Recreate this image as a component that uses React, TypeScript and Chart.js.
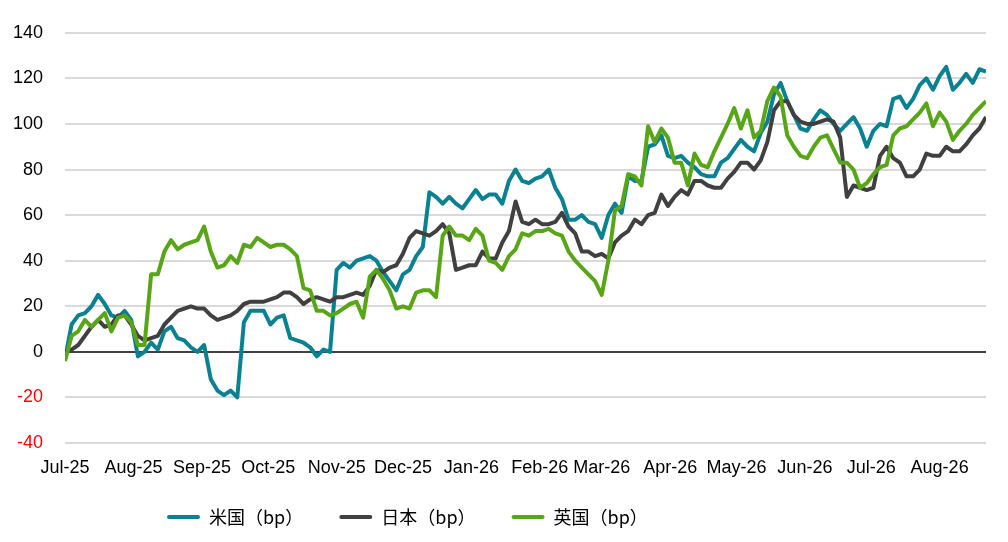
import React, { useEffect, useRef } from 'react';
import { Chart, registerables } from 'chart.js';

Chart.register(...registerables);

// 3営業日ごとのサンプル（2025/7/1 からの経過日数）
const DAY_STEP = 3;
const X_MAX = 417;

const monthOffsets = [0, 31, 62, 92, 123, 153, 184, 215, 243, 274, 304, 335, 365, 396];
const monthLabels = [
  'Jul-25', 'Aug-25', 'Sep-25', 'Oct-25', 'Nov-25', 'Dec-25', 'Jan-26',
  'Feb-26', 'Mar-26', 'Apr-26', 'May-26', 'Jun-26', 'Jul-26', 'Aug-26',
];

const seriesNames = ['米国（bp）', '日本（bp）', '英国（bp）'];
const seriesColors = ['#0A8191', '#404040', '#58A618'];

const usSpread = [
  -3, 12, 16, 17, 20, 25, 21, 16, 15, 18, 14, -2, 0, 4, 1, 9, 11, 6, 5, 2,
  0, 3, -12, -17, -19, -17, -20, 13, 18, 18, 18, 12, 15, 16, 6, 5, 4, 2, -2, 1,
  0, 36, 39, 37, 40, 41, 42, 40, 35, 31, 27, 34, 36, 42, 46, 70, 68, 65, 68, 65,
  63, 67, 71, 67, 69, 69, 65, 75, 80, 75, 74, 76, 77, 80, 72, 67, 58, 58, 60, 57,
  56, 50, 60, 65, 61, 77, 75, 75, 90, 91, 95, 86, 85, 86, 83, 81, 78, 77, 77, 83,
  85, 89, 93, 90, 88, 96, 101, 113, 118, 110, 104, 98, 97, 102, 106, 104, 100, 97, 100, 103,
  98, 90, 97, 100, 99, 111, 112, 107, 111, 117, 120, 115, 121, 125, 115, 118, 122, 118, 124, 123,
];

const jpSpread = [
  0, 1, 3, 7, 11, 14, 11, 12, 16, 16, 12, 7, 5, 6, 7, 12, 15, 18, 19, 20,
  19, 19, 16, 14, 15, 16, 18, 21, 22, 22, 22, 23, 24, 26, 26, 24, 21, 23, 24, 23,
  22, 24, 24, 25, 26, 25, 29, 36, 35, 37, 38, 43, 50, 53, 52, 51, 53, 56, 52, 36,
  37, 38, 38, 44, 41, 41, 48, 53, 66, 57, 56, 58, 56, 56, 57, 61, 55, 52, 44, 44,
  42, 43, 41, 48, 51, 53, 58, 56, 60, 61, 69, 64, 68, 71, 69, 75, 75, 73, 72, 72,
  76, 79, 83, 83, 80, 84, 92, 106, 110, 110, 104, 101, 100, 100, 101, 102, 101, 94, 68, 73,
  72, 71, 72, 86, 90, 85, 83, 77, 77, 80, 87, 86, 86, 90, 88, 88, 91, 95, 98, 103,
];

const ukSpread = [
  -4, 7, 9, 14, 11, 14, 17, 9, 15, 16, 13, 3, 3, 34, 34, 44, 49, 45, 47, 48,
  49, 55, 44, 37, 38, 42, 39, 47, 46, 50, 48, 46, 47, 47, 45, 42, 28, 27, 18, 18,
  16, 17, 19, 21, 22, 15, 33, 36, 32, 27, 19, 20, 19, 26, 27, 27, 24, 51, 55, 51,
  51, 49, 54, 51, 40, 39, 36, 42, 45, 52, 51, 53, 53, 54, 52, 51, 44, 40, 37, 34,
  31, 25, 40, 62, 64, 78, 77, 73, 99, 92, 98, 94, 83, 83, 73, 87, 82, 81, 88, 94,
  100, 107, 98, 106, 94, 97, 110, 116, 112, 95, 90, 86, 85, 90, 94, 95, 89, 83, 83, 80,
  72, 74, 78, 81, 82, 95, 98, 99, 102, 105, 109, 99, 105, 101, 93, 97, 100, 104, 107, 110,
];

const LEGEND_START = 167;
const LEGEND_PADDING = 36;
const LEGEND_TOP = 472;

const toPoints = (values: number[]) => values.map((v, i) => ({ x: i * DAY_STEP, y: v }));

// 凡例を左寄りの位置へずらす
const legendShift = {
  id: 'legendShift',
  afterLayout(chart: any) {
    const lg = chart.legend;
    if (!lg) return;
    const w = lg.right - lg.left;
    lg.left = LEGEND_START - LEGEND_PADDING;
    lg.right = lg.left + w;
    lg.top = LEGEND_TOP;
    lg.bottom = chart.height;
    lg.height = lg.bottom - lg.top;
  },
};

const SpreadChart: React.FC = () => {
  const canvasRef = useRef<HTMLCanvasElement>(null);

  useEffect(() => {
    if (!canvasRef.current) return;
    const font = { family: '"Liberation Sans", Arial, sans-serif', size: 18 };
    const chart = new Chart(canvasRef.current, {
      type: 'line',
      data: {
        datasets: [usSpread, jpSpread, ukSpread].map((vals, i) => ({
          label: seriesNames[i],
          data: toPoints(vals),
          borderColor: seriesColors[i],
          backgroundColor: seriesColors[i],
          borderWidth: 4,
          borderJoinStyle: 'round' as const,
          pointRadius: 0,
          tension: 0,
          order: 2 - i,
        })),
      },
      options: {
        animation: false,
        responsive: true,
        maintainAspectRatio: false,
        layout: { padding: { left: 8, right: 22, top: 24, bottom: 0 } },
        plugins: {
          tooltip: { enabled: false },
          legend: {
            position: 'bottom',
            align: 'start',
            maxHeight: 50,
            labels: {
              font: { family: '"Noto Sans CJK JP", sans-serif', size: 18 },
              color: '#000',
              boxWidth: 33,
              boxHeight: 4,
              padding: LEGEND_PADDING,
              useBorderRadius: true,
              borderRadius: 2,
              sort: (a: any, b: any) => a.datasetIndex - b.datasetIndex,
              generateLabels: (c: any) =>
                Chart.defaults.plugins.legend.labels.generateLabels(c).map((item: any) => ({
                  ...item,
                  lineWidth: 0,
                })),
            },
          },
        },
        scales: {
          x: {
            type: 'linear',
            min: 0,
            max: X_MAX,
            grid: { display: false },
            border: { display: false },
            afterBuildTicks: (scale: any) => {
              scale.ticks = monthOffsets.map((v) => ({ value: v }));
            },
            afterFit: (scale: any) => {
              scale.height = 49;
            },
            ticks: {
              autoSkip: false,
              maxRotation: 0,
              padding: 6,
              color: '#000',
              font,
              callback: (value: any) => {
                const idx = monthOffsets.indexOf(Number(value));
                return idx >= 0 ? monthLabels[idx] : '';
              },
            },
          },
          y: {
            min: -40,
            max: 140,
            border: { display: false },
            afterFit: (scale: any) => {
              scale.width = 57;
            },
            grid: {
              drawTicks: false,
              color: (ctx: any) => (ctx.tick && ctx.tick.value === 0 ? '#404040' : '#d9d9d9'),
              lineWidth: 2,
            },
            ticks: {
              stepSize: 20,
              padding: 22,
              font,
              color: (ctx: any) => (ctx.tick && ctx.tick.value < 0 ? '#ff0000' : '#000'),
            },
          },
        },
      },
      plugins: [legendShift],
    });
    return () => chart.destroy();
  }, []);

  return (
    <div style={{ width: 1008, height: 542, position: 'relative' }}>
      <canvas ref={canvasRef} />
    </div>
  );
};

export default function App() {
  useEffect(() => {
    document.body.style.margin = '0';
  }, []);
  return <SpreadChart />;
}
